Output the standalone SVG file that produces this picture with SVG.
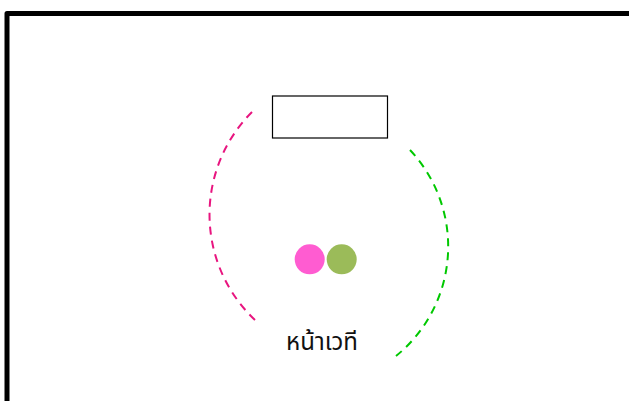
<svg xmlns="http://www.w3.org/2000/svg" width="629" height="401" viewBox="0 0 629 401">
<style>
.arc{fill:none;stroke-width:2;stroke-dasharray:8 6}
.lbl{font-family:"Noto Sans","Noto Sans Thai","DejaVu Sans",sans-serif;font-size:24px;fill:#111;text-anchor:middle}
</style>
<rect width="629" height="401" fill="#fff"/>
<g id="border"><path d="M7,405 V13.5 H640" fill="none" stroke="#000" stroke-width="5" stroke-linejoin="round"/></g>
<g id="stage-box"><rect x="272.5" y="96" width="115" height="42" fill="#fff" stroke="#000" stroke-width="1.2"/></g>
<g id="connectors">
<path class="arc" stroke="#E8157F" d="M252,112 A145,145 0 0 0 255,320"/>
<path class="arc" stroke="#00C800" d="M410,150 A141,141 0 0 1 396,356"/>
</g>
<g id="pink-dot"><circle cx="309.7" cy="259.3" r="15" fill="#FF5CD1"/></g>
<g id="green-dot"><circle cx="341.7" cy="259.3" r="15" fill="#9BBB59"/></g>
<g id="label"><text class="lbl" x="322" y="350">หน้าเวที</text></g>
</svg>
